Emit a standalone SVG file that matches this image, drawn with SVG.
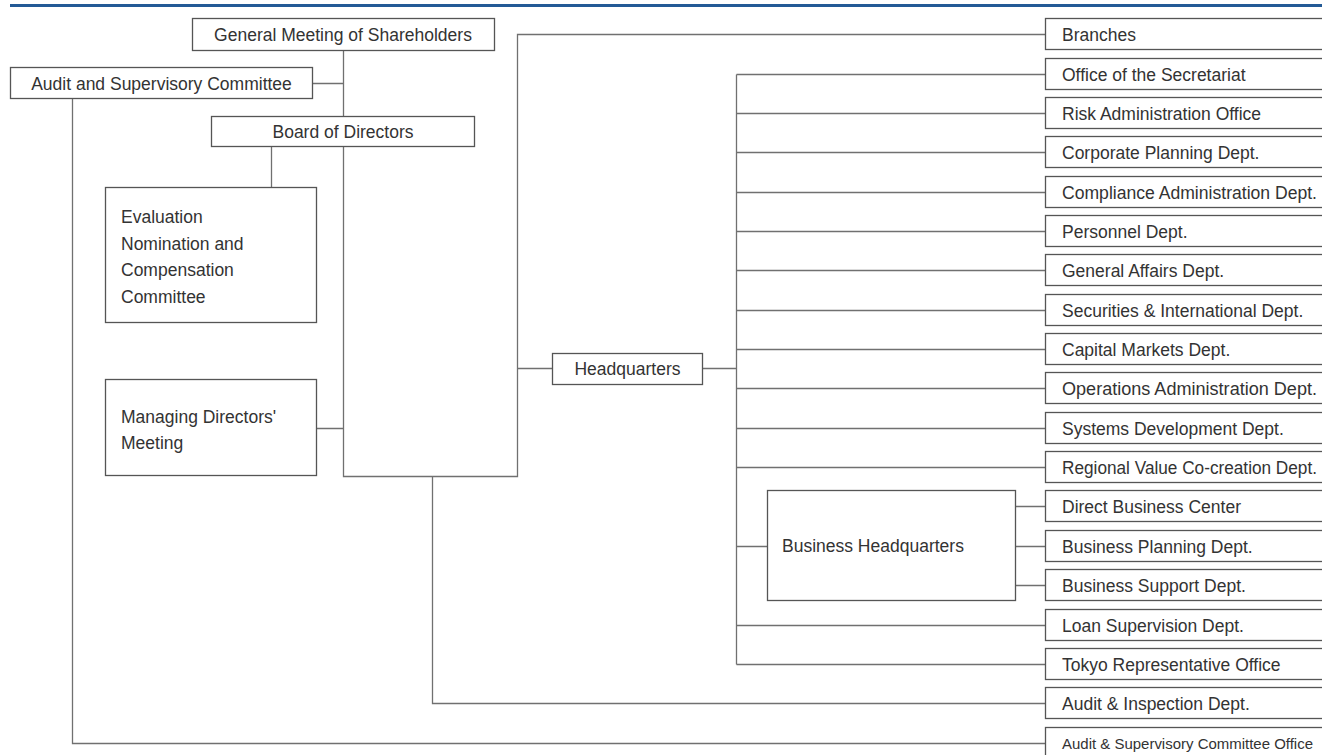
<svg xmlns="http://www.w3.org/2000/svg" width="1322" height="755" viewBox="0 0 1322 755">
<style>
.box{fill:#fff;stroke:#555;stroke-width:1.3}
.ln{fill:none;stroke:#707070;stroke-width:1.3}
.t{font-family:"Liberation Sans",Arial,sans-serif;font-size:17.5px;fill:#333}
.c{text-anchor:middle}
</style>
<rect x="0" y="0" width="1322" height="755" fill="#fff"/>
<line x1="10" y1="5.5" x2="1322" y2="5.5" stroke="#235a96" stroke-width="3"/>
<g id="connectors">
<path class="ln" d="M343.5,51 V116 M313,83.5 H343.5 M343.5,147 V476.5 H517.5 V34.5 H1045.5 M271.5,147 V187 M317,428.5 H343.5 M517.5,368.5 H552 M703,368.5 H736.5 M736.5,74.5 V664.5 M432.5,476.5 V703.5 H1045.5 M72.5,99 V743.5 H1045.5"/>
<path class="ln" d="M736.5,74.5 H1045.5 M736.5,113.5 H1045.5 M736.5,152.5 H1045.5 M736.5,192.5 H1045.5 M736.5,231.5 H1045.5 M736.5,270.5 H1045.5 M736.5,310.5 H1045.5 M736.5,349.5 H1045.5 M736.5,388.5 H1045.5 M736.5,428.5 H1045.5 M736.5,467.5 H1045.5 M736.5,625.5 H1045.5 M736.5,664.5 H1045.5 M736.5,546.5 H767 M1016,506.5 H1045.5 M1016,546.5 H1045.5 M1016,585.5 H1045.5"/>
</g>
<g id="gm"><rect class="box" x="192.5" y="18.5" width="302" height="32"/><text class="t c" x="343" y="41">General Meeting of Shareholders</text></g>
<g id="asc"><rect class="box" x="10.5" y="67.5" width="302" height="31"/><text class="t c" x="161.5" y="89.5">Audit and Supervisory Committee</text></g>
<g id="bod"><rect class="box" x="211.5" y="116.5" width="263" height="30"/><text class="t c" x="343" y="138">Board of Directors</text></g>
<g id="enc"><rect class="box" x="105.5" y="187.5" width="211" height="135"/>
<text class="t" x="121" y="223">Evaluation</text><text class="t" x="121" y="250">Nomination and</text><text class="t" x="121" y="276">Compensation</text><text class="t" x="121" y="303">Committee</text></g>
<g id="mdm"><rect class="box" x="105.5" y="379.5" width="211" height="96"/>
<text class="t" x="121" y="423">Managing Directors'</text><text class="t" x="121" y="449">Meeting</text></g>
<g id="hq"><rect class="box" x="552.5" y="353.5" width="150" height="31"/><text class="t c" x="627.5" y="375">Headquarters</text></g>
<g id="bhq"><rect class="box" x="767.5" y="490.5" width="248" height="110"/><text class="t" x="782" y="552">Business Headquarters</text></g>
<g id="r0"><rect class="box" x="1045.5" y="18.5" width="300" height="31"/><text class="t" x="1062" y="40.5">Branches</text></g>
<g id="r1"><rect class="box" x="1045.5" y="58.5" width="300" height="31"/><text class="t" x="1062" y="80.5">Office of the Secretariat</text></g>
<g id="r2"><rect class="box" x="1045.5" y="97.5" width="300" height="31"/><text class="t" x="1062" y="119.5">Risk Administration Office</text></g>
<g id="r3"><rect class="box" x="1045.5" y="136.5" width="300" height="31"/><text class="t" x="1062" y="158.5">Corporate Planning Dept.</text></g>
<g id="r4"><rect class="box" x="1045.5" y="176.5" width="300" height="31"/><text class="t" x="1062" y="198.5" textLength="255" lengthAdjust="spacingAndGlyphs">Compliance Administration Dept.</text></g>
<g id="r5"><rect class="box" x="1045.5" y="215.5" width="300" height="31"/><text class="t" x="1062" y="237.5">Personnel Dept.</text></g>
<g id="r6"><rect class="box" x="1045.5" y="254.5" width="300" height="31"/><text class="t" x="1062" y="276.5">General Affairs Dept.</text></g>
<g id="r7"><rect class="box" x="1045.5" y="294.5" width="300" height="31"/><text class="t" x="1062" y="316.5">Securities &amp; International Dept.</text></g>
<g id="r8"><rect class="box" x="1045.5" y="333.5" width="300" height="31"/><text class="t" x="1062" y="355.5">Capital Markets Dept.</text></g>
<g id="r9"><rect class="box" x="1045.5" y="372.5" width="300" height="31"/><text class="t" x="1062" y="394.5" textLength="255" lengthAdjust="spacingAndGlyphs">Operations Administration Dept.</text></g>
<g id="r10"><rect class="box" x="1045.5" y="412.5" width="300" height="31"/><text class="t" x="1062" y="434.5">Systems Development Dept.</text></g>
<g id="r11"><rect class="box" x="1045.5" y="451.5" width="300" height="31"/><text class="t" x="1062" y="473.5" textLength="255" lengthAdjust="spacingAndGlyphs">Regional Value Co-creation Dept.</text></g>
<g id="r12"><rect class="box" x="1045.5" y="490.5" width="300" height="31"/><text class="t" x="1062" y="512.5">Direct Business Center</text></g>
<g id="r13"><rect class="box" x="1045.5" y="530.5" width="300" height="31"/><text class="t" x="1062" y="552.5">Business Planning Dept.</text></g>
<g id="r14"><rect class="box" x="1045.5" y="569.5" width="300" height="31"/><text class="t" x="1062" y="591.5">Business Support Dept.</text></g>
<g id="r15"><rect class="box" x="1045.5" y="609.5" width="300" height="31"/><text class="t" x="1062" y="631.5">Loan Supervision Dept.</text></g>
<g id="r16"><rect class="box" x="1045.5" y="648.5" width="300" height="31"/><text class="t" x="1062" y="670.5">Tokyo Representative Office</text></g>
<g id="r17"><rect class="box" x="1045.5" y="687.5" width="300" height="31"/><text class="t" x="1062" y="709.5">Audit &amp; Inspection Dept.</text></g>
<g id="r18"><rect class="box" x="1045.5" y="727.5" width="300" height="31"/><text class="t" x="1062" y="749" style="font-size:15.5px" textLength="251" lengthAdjust="spacingAndGlyphs">Audit &amp; Supervisory Committee Office</text></g>
</svg>
